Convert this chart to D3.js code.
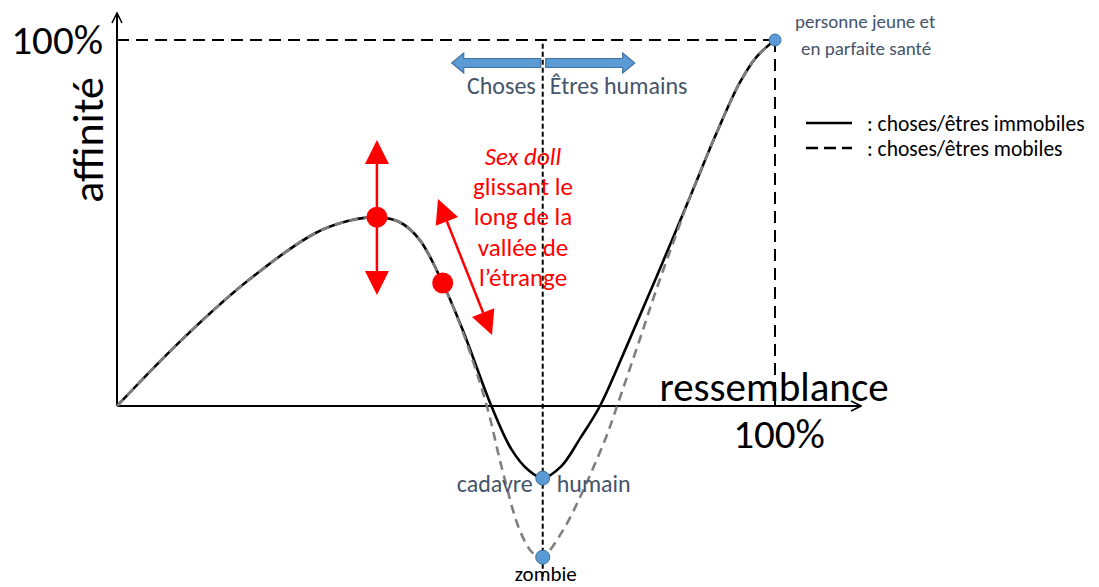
<!doctype html>
<html lang="fr">
<head>
<meta charset="utf-8">
<title>Vallée de l'étrange</title>
<script src="https://d3js.org/d3.v7.min.js"></script>
<style>
  body { margin: 0; background: #fff; }
  svg { display: block; font-family: Carlito, Lato, "Open Sans", sans-serif; }
</style>
</head>
<body>
<div id="chart"></div>
<script>
// ressemblance (%) / affinité (%)
const solidX = [0, 9.8, 20.0, 30.1, 35.2, 39.5, 43.0, 46.0, 49.5, 52.6, 56.9, 60.0, 62.5, 64.7, 67.5, 70.5, 73.4, 77.5, 82.0, 87.1, 91.1, 94.6, 97.2, 100];
const solidY = [0, 18.0, 34.4, 47.2, 50.6, 51.6, 50.2, 45.4, 33.6, 20.5, 0, -12.0, -17.5, -19.7, -16.5, -8.5, 0, 16.5, 35.3, 57.2, 74.5, 88.2, 95.4, 100];

const dashX = [0, 9.8, 20.0, 30.1, 35.2, 39.5, 43.0, 46.0, 49.5, 52.7, 56.2, 58.5, 61.2, 63.2, 64.6, 67.8, 70.4, 72.3, 74.4, 76.0, 79.5, 82.0, 85.0, 87.1, 91.1, 94.6, 97.2, 100];
const dashY = [0, 18.0, 34.4, 47.2, 50.6, 51.6, 50.2, 45.4, 33.6, 19.5, 0, -17.0, -33.9, -40.2, -41.3, -33.9, -24.8, -17.2, -8.2, 0, 18.5, 32.0, 47.0, 57.2, 74.5, 88.2, 95.4, 100];

// named points
const bluePts = [
  {name: "personne", x: 100, y: 100},
  {name: "cadavre", x: 64.7, y: -19.7},
  {name: "zombie", x: 64.7, y: -41.3}
];
const redPts = [
  {x: 39.5, y: 51.6},
  {x: 49.5, y: 33.6}
];
const redText = ["Sex doll", "glissant le", "long de la", "vallée de", "l\u2019étrange"];
const legendLabels = [": choses/êtres immobiles", ": choses/êtres mobiles"];

const W = 1099, H = 587;
const x = d3.scaleLinear().domain([0, 100]).range([117, 775]);
const y = d3.scaleLinear().domain([0, 100]).range([406, 40]);

const slate = "#44546A", blueFill = "#5B9BD5", blueStroke = "#41719C", red = "#FF0000";

const svg = d3.select("#chart").append("svg")
  .attr("width", W).attr("height", H);

// open chevron arrow head for the axes
svg.append("defs").append("marker")
  .attr("id", "open")
  .attr("viewBox", "0 0 12 12")
  .attr("refX", 11).attr("refY", 6)
  .attr("markerWidth", 12).attr("markerHeight", 12)
  .attr("markerUnits", "userSpaceOnUse")
  .attr("orient", "auto")
  .append("path")
  .attr("d", "M1,1 L11,6 L1,11")
  .attr("fill", "none").attr("stroke", "#000").attr("stroke-width", 1.6);

// reference lines
svg.append("line")
  .attr("x1", x(0)).attr("x2", x(100)).attr("y1", y(100)).attr("y2", y(100))
  .attr("stroke", "#000").attr("stroke-width", 2).attr("stroke-dasharray", "12,7");
svg.append("line")
  .attr("x1", x(100)).attr("x2", x(100)).attr("y1", y(100)).attr("y2", y(0))
  .attr("stroke", "#000").attr("stroke-width", 2).attr("stroke-dasharray", "12,7");
svg.append("line")
  .attr("x1", x(64.7)).attr("x2", x(64.7)).attr("y1", y(99)).attr("y2", 580)
  .attr("stroke", "#000").attr("stroke-width", 2).attr("stroke-dasharray", "5,3");

// axes
svg.append("line")
  .attr("x1", x(0)).attr("y1", y(0)).attr("x2", x(0)).attr("y2", 13)
  .attr("stroke", "#000").attr("stroke-width", 2).attr("marker-end", "url(#open)");
svg.append("line")
  .attr("x1", x(0)).attr("y1", y(0)).attr("x2", 861).attr("y2", y(0))
  .attr("stroke", "#000").attr("stroke-width", 2).attr("marker-end", "url(#open)");

// curves
const line = d3.line().x(d => x(d[0])).y(d => y(d[1])).curve(d3.curveCatmullRom.alpha(0.5));
svg.append("path")
  .attr("d", line(d3.zip(solidX, solidY)))
  .attr("fill", "none").attr("stroke", "#000").attr("stroke-width", 2.6);
svg.append("path")
  .attr("d", line(d3.zip(dashX, dashY)))
  .attr("fill", "none").attr("stroke", "#7F7F7F").attr("stroke-width", 2.6)
  .attr("stroke-dasharray", "9,6");

// axis texts
svg.append("text").attr("x", 103).attr("y", y(100)).attr("dy", "0.35em")
  .attr("text-anchor", "end").attr("font-size", 41).text("100%");
svg.append("text")
  .attr("transform", `translate(103,${140}) rotate(-90)`)
  .attr("text-anchor", "middle").attr("font-size", 44).text("affinité");
svg.append("text").attr("x", 774).attr("y", 401)
  .attr("text-anchor", "middle").attr("font-size", 41).text("ressemblance");
svg.append("text").attr("x", x(100) + 4).attr("y", 448)
  .attr("text-anchor", "middle").attr("font-size", 41).text("100%");

// blue block arrows
const sx = x(64.7), ay = 63;
function blockArrow(from, to) {
  const dir = Math.sign(to - from), hb = to - dir * 12;
  return `M${from},${ay - 4.5} L${hb},${ay - 4.5} L${hb},${ay - 10} L${to},${ay} L${hb},${ay + 10} L${hb},${ay + 4.5} L${from},${ay + 4.5} Z`;
}
svg.append("path").attr("d", blockArrow(sx - 2, sx - 91))
  .attr("fill", blueFill).attr("stroke", blueStroke).attr("stroke-width", 1.2);
svg.append("path").attr("d", blockArrow(sx + 3, sx + 92))
  .attr("fill", blueFill).attr("stroke", blueStroke).attr("stroke-width", 1.2);
svg.append("text").attr("x", sx - 7).attr("y", 86).attr("dy", "0.35em")
  .attr("text-anchor", "end").attr("font-size", 24).attr("fill", slate).text("Choses");
svg.append("text").attr("x", sx + 7).attr("y", 86).attr("dy", "0.35em")
  .attr("font-size", 24).attr("fill", slate).text("Êtres humains");

// legend
const legend = svg.append("g");
legendLabels.forEach((t, i) => {
  const ly = 123 + i * 25;
  legend.append("line").attr("x1", 806).attr("x2", 852).attr("y1", ly).attr("y2", ly)
    .attr("stroke", "#000").attr("stroke-width", 2.6)
    .attr("stroke-dasharray", i ? "12,6" : null);
  legend.append("text").attr("x", 867).attr("y", ly).attr("dy", "0.35em")
    .attr("font-size", 21.5).text(t);
});

// red annotation
const redG = svg.append("g").attr("fill", red);
redText.forEach((t, i) => {
  redG.append("text").attr("x", 523).attr("y", 156 + i * 30.3).attr("dy", "0.35em")
    .attr("text-anchor", "middle").attr("font-size", 25)
    .attr("font-style", i === 0 ? "italic" : null).text(t);
});

function redArrow(x1, y1, x2, y2) {
  const ang = Math.atan2(y2 - y1, x2 - x1), L = 24, hw = 12;
  const g = svg.append("g");
  const ux = Math.cos(ang), uy = Math.sin(ang), px = -uy, py = ux;
  g.append("line")
    .attr("x1", x1 + ux * L).attr("y1", y1 + uy * L)
    .attr("x2", x2 - ux * L).attr("y2", y2 - uy * L)
    .attr("stroke", red).attr("stroke-width", 2.5);
  [[x1, y1, 1], [x2, y2, -1]].forEach(([tx, ty, s]) => {
    const bx = tx + s * ux * L, by = ty + s * uy * L;
    g.append("path")
      .attr("d", `M${tx},${ty} L${bx + px * hw},${by + py * hw} L${bx - px * hw},${by - py * hw} Z`)
      .attr("fill", red);
  });
}
const p0 = redPts[0];
redArrow(x(p0.x), 140, x(p0.x), 295);
redArrow(438, 199, 492, 335);

svg.selectAll("circle.red").data(redPts).join("circle").attr("class", "red")
  .attr("cx", d => x(d.x)).attr("cy", d => y(d.y)).attr("r", 10.5).attr("fill", red);

// blue points and labels
svg.selectAll("circle.blue").data(bluePts).join("circle").attr("class", "blue")
  .attr("cx", d => x(d.x)).attr("cy", d => y(d.y)).attr("r", d => d.name === "personne" ? 6 : 7)
  .attr("fill", blueFill).attr("stroke", blueStroke).attr("stroke-width", 1);

svg.append("text").attr("x", 795).attr("y", 21).attr("dy", "0.35em")
  .attr("font-size", 19).attr("fill", slate).text("personne jeune et");
svg.append("text").attr("x", 801).attr("y", 48).attr("dy", "0.35em")
  .attr("font-size", 19).attr("fill", slate).text("en parfaite santé");
svg.append("text").attr("x", sx - 10).attr("y", 484).attr("dy", "0.35em")
  .attr("text-anchor", "end").attr("font-size", 24).attr("fill", slate).text("cadavre");
svg.append("text").attr("x", sx + 14).attr("y", 484).attr("dy", "0.35em")
  .attr("font-size", 24).attr("fill", slate).text("humain");
svg.append("text").attr("x", sx + 3).attr("y", 574).attr("dy", "0.35em")
  .attr("text-anchor", "middle").attr("font-size", 21).text("zombie");
</script>
</body>
</html>
